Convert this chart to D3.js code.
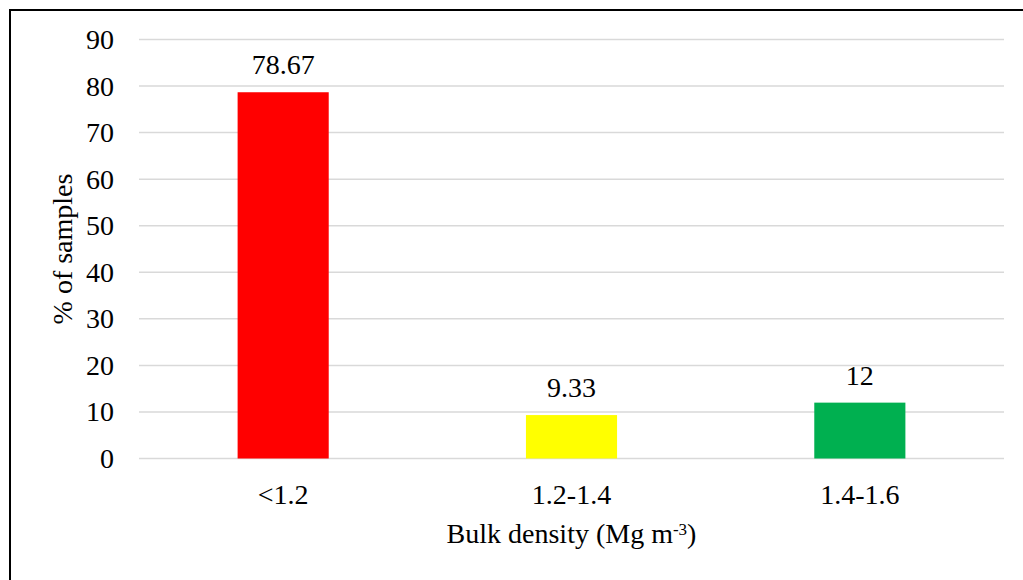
<!DOCTYPE html>
<html>
<head>
<meta charset="utf-8">
<script src="https://cdn.jsdelivr.net/npm/d3@7/dist/d3.min.js"></script>
<style>
  html, body { margin: 0; padding: 0; background: #fff; }
  svg { display: block; }
</style>
</head>
<body>
<svg id="chart" width="1023" height="580"></svg>
<script>
// Share of samples by bulk density class
const categories = ["<1.2", "1.2-1.4", "1.4-1.6"];
const percentages = [78.67, 9.33, 12];
const valueLabels = ["78.67", "9.33", "12"];
const barColors = ["#ff0000", "#ffff00", "#00b050"];
const yTicks = [0, 10, 20, 30, 40, 50, 60, 70, 80, 90];

const FONT = '"Liberation Serif", "Times New Roman", "DejaVu Serif", serif';
const FS = 28;

const W = 1023, H = 580;
const margin = { left: 139, right: 19, top: 39.5, bottom: 121.5 };
const svg = d3.select("#chart")
  .attr("font-family", FONT);

// outer frame (left and top edges visible)
svg.append("path")
  .attr("d", `M10,${H + 5} L10,10 L${W + 5},10`)
  .attr("fill", "none").attr("stroke", "#000").attr("stroke-width", 2);

const x = d3.scaleBand()
  .domain(categories)
  .range([margin.left, W - margin.right])
  .paddingInner(0.684)
  .paddingOuter(0.342);

const y = d3.scaleLinear()
  .domain([0, 90])
  .range([H - margin.bottom, margin.top]);

// horizontal gridlines
svg.append("g")
  .selectAll("line")
  .data(yTicks)
  .join("line")
  .attr("x1", margin.left).attr("x2", W - margin.right)
  .attr("y1", d => y(d)).attr("y2", d => y(d))
  .attr("stroke", "#d9d9d9").attr("stroke-width", 1.5);

// y axis labels
const yAxis = d3.axisLeft(y).tickValues(yTicks).tickSize(0).tickPadding(0);
const gy = svg.append("g")
  .attr("transform", `translate(${margin.left - 25},0)`)
  .call(yAxis)
  .attr("font-family", FONT)
  .attr("font-size", FS);
gy.select(".domain").remove();
gy.selectAll("text").attr("fill", "#000");

// bars
svg.append("g")
  .selectAll("rect")
  .data(categories)
  .join("rect")
  .attr("x", d => x(d))
  .attr("width", x.bandwidth())
  .attr("y", (d, i) => y(percentages[i]))
  .attr("height", (d, i) => y(0) - y(percentages[i]))
  .attr("fill", (d, i) => barColors[i]);

// value labels
svg.append("g")
  .attr("font-size", FS)
  .selectAll("text")
  .data(categories)
  .join("text")
  .attr("x", d => x(d) + x.bandwidth() / 2)
  .attr("y", (d, i) => y(percentages[i]) - 18)
  .attr("text-anchor", "middle")
  .attr("fill", "#000")
  .text((d, i) => valueLabels[i]);

// x axis labels
const xAxis = d3.axisBottom(x).tickSize(0).tickPadding(0);
const gx = svg.append("g")
  .attr("transform", `translate(0,${y(0)})`)
  .call(xAxis)
  .attr("font-family", FONT)
  .attr("font-size", FS);
gx.select(".domain").remove();
gx.selectAll("text")
  .attr("dy", null)
  .attr("y", 45)
  .attr("fill", "#000");

// axis titles
const xTitle = svg.append("text")
  .attr("x", (margin.left + W - margin.right) / 2)
  .attr("y", 543)
  .attr("text-anchor", "middle")
  .attr("font-size", FS)
  .attr("fill", "#000");
xTitle.append("tspan").text("Bulk density (Mg m");
xTitle.append("tspan").attr("dy", -8).attr("font-size", 17).text("-3");
xTitle.append("tspan").attr("dy", 8).text(")");

svg.append("text")
  .attr("transform", `translate(72,${(y(0) + y(90)) / 2}) rotate(-90)`)
  .attr("text-anchor", "middle")
  .attr("font-size", FS)
  .attr("fill", "#000")
  .text("% of samples");
</script>
</body>
</html>
